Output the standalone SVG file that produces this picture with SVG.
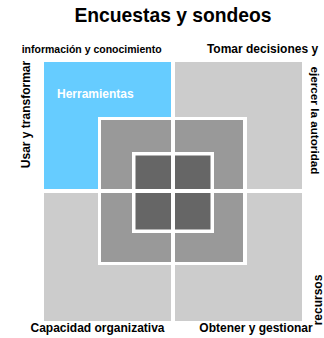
<svg xmlns="http://www.w3.org/2000/svg" width="324" height="338" viewBox="0 0 324 338">
<style>
  text { font-family: "Liberation Sans", Arial, sans-serif; font-weight: bold; fill: #000; }
  .lbl { font-size: 12px; }
  .outer { fill: #cccccc; }
  .blue { fill: #66ccff; }
  .mid { fill: #999999; }
  .dark { fill: #666666; }
  .white { fill: #ffffff; }
</style>
<rect x="0" y="0" width="324" height="338" fill="#ffffff"/>
<text x="173" y="22" font-size="19.3" text-anchor="middle">Encuestas y sondeos</text>

<g id="outer">
  <rect class="blue" x="44" y="62" width="127" height="127"/>
  <rect class="outer" x="175" y="62" width="127" height="127"/>
  <rect class="outer" x="44" y="193" width="127" height="128"/>
  <rect class="outer" x="175" y="193" width="127" height="128"/>
</g>
<g id="middle">
  <rect class="white" x="98" y="117" width="149" height="148"/>
  <rect class="mid" x="101" y="120" width="70" height="69"/>
  <rect class="mid" x="175" y="120" width="68" height="69"/>
  <rect class="mid" x="101" y="193" width="70" height="69"/>
  <rect class="mid" x="175" y="193" width="68" height="69"/>
</g>
<g id="inner">
  <rect class="white" x="132" y="152" width="82" height="81"/>
  <rect class="dark" x="135.5" y="155.5" width="35.5" height="33.5"/>
  <rect class="dark" x="175" y="155.5" width="35.5" height="33.5"/>
  <rect class="dark" x="135.5" y="193" width="35.5" height="36.5"/>
  <rect class="dark" x="175" y="193" width="35.5" height="36.5"/>
</g>

<g id="labels">
  <text x="57" y="98" class="lbl" fill="#ffffff" style="fill:#ffffff">Herramientas</text>
  <text x="91.7" y="52.5" font-size="10.5" text-anchor="middle">información y conocimiento</text>
  <text x="262.5" y="52.5" class="lbl" text-anchor="middle">Tomar decisiones y</text>
  <text class="lbl" text-anchor="middle" transform="translate(30,114.5) rotate(-90)">Usar y transformar</text>
  <text font-size="11.7" text-anchor="middle" transform="translate(310.5,120.5) rotate(90)">ejercer la autoridad</text>
  <text class="lbl" text-anchor="middle" transform="translate(322,300) rotate(-90)">recursos</text>
  <text x="97.5" y="331.5" class="lbl" text-anchor="middle">Capacidad organizativa</text>
  <text x="256" y="332" class="lbl" text-anchor="middle">Obtener y gestionar</text>
</g>
</svg>
